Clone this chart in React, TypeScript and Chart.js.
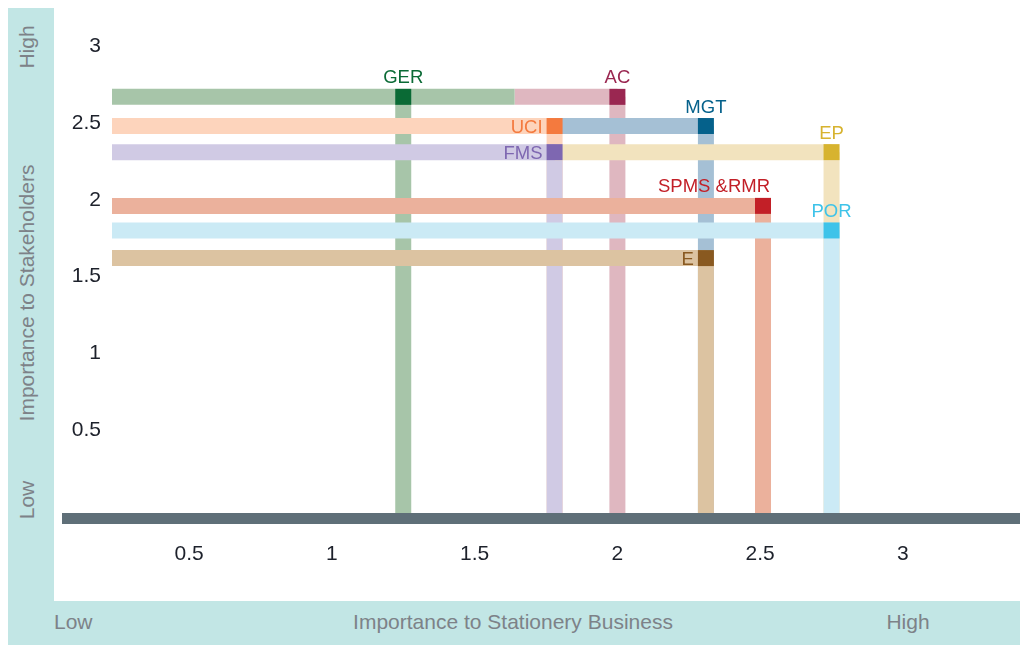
import React, { useEffect, useRef } from "react";
import { Chart, registerables } from "chart.js";

Chart.register(...registerables);

// ---------- data ----------
const names = ["GER", "AC", "UCI", "MGT", "FMS", "EP", "SPMS &RMR", "POR", "E"];
const xValues = [1.25, 2.0, 1.78, 2.31, 1.78, 2.75, 2.51, 2.75, 2.31];
const yValues = [2.67, 2.67, 2.48, 2.48, 2.31, 2.31, 1.96, 1.8, 1.62];
// horizontal band ranges (null start = from the axis)
const bandStarts: (number | null)[] = [null, 1.64, null, 1.78, null, 1.78, null, null, null];
const bandEnds = [1.64, 2.0, 1.78, 2.31, 1.78, 2.75, 2.51, 2.75, 2.31];
const xTicks = [0.5, 1, 1.5, 2, 2.5, 3];
const yTicks = [0.5, 1, 1.5, 2, 2.5, 3];

// ---------- styles ----------
const markerColors = ["#0a6a35", "#9a2751", "#f47a3e", "#05618b", "#7e67b1", "#d7b32f", "#c21f27", "#3ec3e9", "#895920"];
const bandColors = ["#a7c5a9", "#dfb7c0", "#fdd4bc", "#a5c0d5", "#d0cae4", "#f2e3be", "#ebb19c", "#cbeaf5", "#dcc3a1"];
const labelPlacement = ["top", "top", "left", "top", "left", "top", "topRight", "top", "left"];

const FONT = '"Liberation Sans", Arial, Helvetica, sans-serif';
const TEAL = "#c2e6e5";
const TITLE_GRAY = "#7d8288";
const X_MIN = 0.23;
const X_MAX = 3.41;
const Y_MIN = -0.04;
const Y_MAX = 3.19;
const BAND = 16;

const labelPlugin = {
  id: "pointLabels",
  afterDatasetsDraw(chart: any) {
    const { ctx } = chart;
    const xs = chart.scales.x;
    const ys = chart.scales.y;
    ctx.save();
    ctx.font = `18.5px ${FONT}`;
    ctx.textBaseline = "alphabetic";
    names.forEach((name, i) => {
      const px = xs.getPixelForValue(xValues[i]);
      const py = ys.getPixelForValue(yValues[i]);
      ctx.fillStyle = markerColors[i];
      const p = labelPlacement[i];
      if (p === "left") {
        ctx.textAlign = "right";
        ctx.fillText(name, px - BAND / 2 - 4, py + 6.6);
      } else if (p === "topRight") {
        ctx.textAlign = "right";
        ctx.fillText(name, px + BAND / 2 - 1, py - 13.5);
      } else {
        ctx.textAlign = "center";
        ctx.fillText(name, px, py - 13.5);
      }
    });
    ctx.restore();
  },
};

export default function App() {
  const canvasRef = useRef<HTMLCanvasElement | null>(null);

  useEffect(() => {
    if (!canvasRef.current) return;
    const datasets: any[] = [];
    // vertical bands
    names.forEach((n, i) => {
      datasets.push({
        label: n + " v",
        data: [
          { x: xValues[i], y: yValues[i] },
          { x: xValues[i], y: Y_MIN },
        ],
        showLine: true,
        borderColor: bandColors[i],
        borderWidth: BAND,
        borderCapStyle: "butt",
        pointRadius: 0,
        pointHoverRadius: 0,
        order: 10 + yValues[i],
        clip: false,
      });
    });
    // horizontal bands
    names.forEach((n, i) => {
      const s = bandStarts[i];
      datasets.push({
        label: n + " h",
        data: [
          { x: s === null ? X_MIN : s, y: yValues[i] },
          { x: bandEnds[i], y: yValues[i] },
        ],
        showLine: true,
        borderColor: bandColors[i],
        borderWidth: BAND,
        borderCapStyle: "butt",
        pointRadius: 0,
        pointHoverRadius: 0,
        order: 2 + bandEnds[i] / 10,
        clip: false,
      });
    });
    // markers
    datasets.push({
      label: "markers",
      data: names.map((_, i) => ({ x: xValues[i], y: yValues[i] })),
      showLine: false,
      pointStyle: "rect",
      pointRadius: BAND / Math.SQRT2,
      pointHoverRadius: BAND / Math.SQRT2,
      pointBackgroundColor: markerColors,
      pointBorderWidth: 0,
      order: 0,
      clip: false,
    });

    const tickFont = { size: 21, family: FONT };
    const chart = new Chart(canvasRef.current, {
      type: "scatter",
      data: { datasets },
      options: {
        animation: false,
        responsive: false,
        devicePixelRatio: 1,
        events: [],
        layout: { autoPadding: false, padding: { top: 17, left: 0, right: 0, bottom: 0 } },
        plugins: {
          legend: { display: false },
          tooltip: { enabled: false },
        },
        scales: {
          x: {
            type: "linear",
            min: X_MIN,
            max: X_MAX,
            grid: { display: false },
            border: { display: false },
            ticks: {
              font: tickFont,
              color: "#1d212b",
              padding: 21,
              autoSkip: false,
              maxRotation: 0,
              callback: (v: any) => String(v),
            },
            afterBuildTicks: (s: any) => {
              s.ticks = xTicks.map((v) => ({ value: v }));
            },
            afterFit: (s: any) => {
              s.height = 132;
              s.paddingLeft = 0;
              s.paddingRight = 0;
            },
          },
          y: {
            type: "linear",
            min: Y_MIN,
            max: Y_MAX,
            grid: { display: false },
            border: { display: false },
            ticks: {
              font: tickFont,
              color: "#1d212b",
              padding: 3,
              autoSkip: false,
              callback: (v: any) => String(v),
            },
            afterBuildTicks: (s: any) => {
              s.ticks = yTicks.map((v) => ({ value: v }));
            },
            afterFit: (s: any) => {
              s.width = 112;
              s.paddingTop = 0;
              s.paddingBottom = 0;
            },
          },
        },
      },
      plugins: [labelPlugin],
    });
    return () => chart.destroy();
  }, []);

  const textBase: React.CSSProperties = {
    position: "absolute",
    fontFamily: FONT,
    fontSize: 21,
    lineHeight: "24px",
    color: TITLE_GRAY,
    whiteSpace: "nowrap",
  };
  const rotated = (cy: number, text: string): React.ReactNode => (
    <div
      style={{
        ...textBase,
        left: 27 - 200,
        top: cy - 12,
        width: 400,
        height: 24,
        textAlign: "center",
        transform: "rotate(-90deg)",
        transformOrigin: "50% 50%",
      }}
    >
      {text}
    </div>
  );
  const horiz = (cx: number, text: string): React.ReactNode => (
    <div style={{ ...textBase, left: cx - 250, top: 610, width: 500, height: 24, textAlign: "center" }}>{text}</div>
  );

  return (
    <div style={{ position: "fixed", left: 0, top: 0, width: 1020, height: 645, overflow: "hidden", background: "#fff" }}>
      <div style={{ position: "absolute", left: 8, top: 8, width: 46, height: 637, background: TEAL }} />
      <div style={{ position: "absolute", left: 8, top: 601, width: 1012, height: 44, background: TEAL }} />
      <div style={{ position: "absolute", left: 62, top: 513, width: 958, height: 11, background: "#5f6f78" }} />
      {rotated(47, "High")}
      {rotated(293, "Importance to Stakeholders")}
      {rotated(500, "Low")}
      <div style={{ ...textBase, left: 54, top: 610 }}>Low</div>
      {horiz(513, "Importance to Stationery Business")}
      {horiz(908, "High")}
      <canvas
        ref={canvasRef}
        width={1020}
        height={645}
        style={{ position: "absolute", left: 0, top: 0, width: 1020, height: 645 }}
      />
    </div>
  );
}
